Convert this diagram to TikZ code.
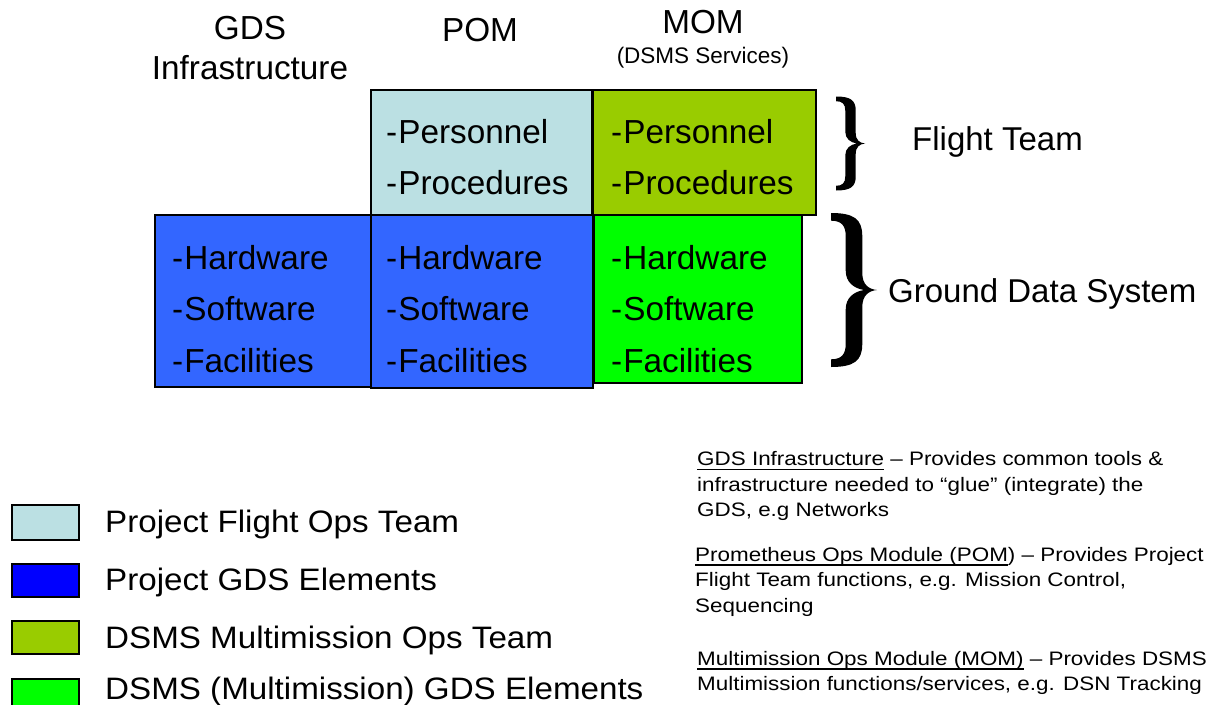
\documentclass[tikz,border=0pt]{standalone}
\usepackage{fontspec}
\setmainfont{Liberation Sans}
\newfontfamily\notefont[FakeStretch=1.15]{Liberation Sans}
\newfontfamily\keyfont[FakeStretch=1.07]{Liberation Sans}
\usetikzlibrary{positioning}

\definecolor{teamblue}{HTML}{BBE0E3}
\definecolor{teamolive}{HTML}{99CC00}
\definecolor{gdsblue}{HTML}{3366FF}
\definecolor{gdsgreen}{HTML}{00FF00}
\definecolor{keyblue}{HTML}{0000FF}

\newcommand\undl[1]{\leavevmode\setbox0\hbox{#1}\rlap{\rule[-4.5pt]{\wd0}{1.5pt}}\box0\relax}

\begin{document}
\begin{tikzpicture}[x=1pt,y=-1pt,
    cell/.style={draw=black,line width=1.2pt},
    items/.style={anchor=west,align=left,inner sep=0pt,font=\fontsize{33.3}{51.5}\selectfont},
    heading/.style={align=center,inner sep=0pt,font=\fontsize{33.3}{40}\selectfont},
    side/.style={anchor=base west,inner sep=0pt,font=\fontsize{33}{38}\selectfont},
    keytext/.style={anchor=base west,inner sep=0pt,font=\keyfont\fontsize{31}{36}\selectfont},
    note/.style={anchor=north west,align=left,inner sep=0pt,font=\notefont\fontsize{19.5}{25.5}\selectfont},
    rbrace/.pic={
      \fill (0,-1) .. controls (0.5,-1) and (0.68,-0.92) .. (0.68,-0.7) -- (0.68,-0.22)
        .. controls (0.68,-0.07) and (0.82,-0.01) .. (1,0)
        .. controls (0.82,0.01) and (0.68,0.07) .. (0.68,0.22) -- (0.68,0.7)
        .. controls (0.68,0.92) and (0.5,1) .. (0,1) -- (0,0.9)
        .. controls (0.22,0.9) and (0.32,0.84) .. (0.32,0.7) -- (0.32,0.25)
        .. controls (0.32,0.1) and (0.5,0.02) .. (0.72,0)
        .. controls (0.5,-0.02) and (0.32,-0.1) .. (0.32,-0.25) -- (0.32,-0.7)
        .. controls (0.32,-0.84) and (0.22,-0.9) .. (0,-0.9) -- cycle;
    }]
    \useasboundingbox (0,0) rectangle (1212,704);

    \node[heading] (gdshead) at (250,48) {GDS\\Infrastructure};
    \node[heading] (pomhead) at (480,30) {POM};
    \node[heading] (momhead) at (703,22) {MOM};
    \node[inner sep=0pt,font=\fontsize{22.5}{25}\selectfont] (momsub) at (703,58) {(DSMS Services)};

    \draw[cell,fill=teamblue] (371,90) rectangle (592,215);
    \draw[cell,fill=teamolive] (593,90) rectangle (816,215);
    \draw[cell,fill=gdsblue] (155,215) rectangle (371,387);
    \draw[cell,fill=gdsblue] (371,215) rectangle (593,388);
    \draw[cell,fill=gdsgreen] (594,215) rectangle (802,383);

    \node[items] (pomteam) at (386,157) {-\kern1pt Personnel\\-\kern1pt Procedures};
    \node[items] (momteam) at (611,157) {-\kern1pt Personnel\\-\kern1pt Procedures};
    \node[items] (infragds) at (172,309) {-\kern1pt Hardware\\-\kern1pt Software\\-\kern1pt Facilities};
    \node[items] (pomgds) at (386,309) {-\kern1pt Hardware\\-\kern1pt Software\\-\kern1pt Facilities};
    \node[items] (momgds) at (611,309) {-\kern1pt Hardware\\-\kern1pt Software\\-\kern1pt Facilities};

    \path (836,143.5) pic[x=29pt,y=-47pt] {rbrace};
    \path (831,290) pic[x=46pt,y=-77pt] {rbrace};
    \node[side] (flightteam) at (912,150) {Flight Team};
    \node[side] (groundsys) at (888,302) {Ground Data System};

    \draw[cell,fill=teamblue] (12,505) rectangle (79,540);
    \draw[cell,fill=keyblue] (12,564) rectangle (79,597);
    \draw[cell,fill=teamolive] (12,621) rectangle (79,654);
    \draw[cell,fill=gdsgreen] (12,679) rectangle (79,712);
    \node[keytext] (keyteam) at (105,532) {Project Flight Ops Team};
    \node[keytext] (keygds) at (105,590) {Project GDS Elements};
    \node[keytext] (keymteam) at (105,648) {DSMS Multimission Ops Team};
    \node[keytext] (keymgds) at (105,699) {DSMS (Multimission) GDS Elements};

    \node[note] (infranote) at (697,451.5) {\undl{GDS Infrastructure} – Provides common tools \&\\infrastructure needed to “glue” (integrate) the\\GDS, e.g Networks};
    \node[note] (pomnote) at (695,547) {\undl{Prometheus Ops Module (POM}) – Provides Project\\Flight Team functions, e.g. Mission Control,\\Sequencing};
    \node[note] (momnote) at (697,651) {\undl{Multimission Ops Module (MOM)} – Provides DSMS\\Multimission functions/services, e.g. DSN Tracking};
\end{tikzpicture}
\end{document}
